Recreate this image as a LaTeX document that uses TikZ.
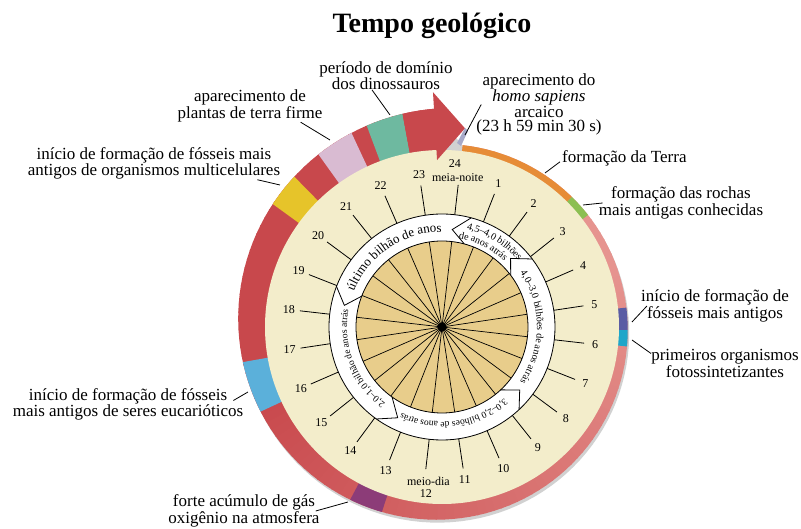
\documentclass[tikz,border=0pt]{standalone}
\usepackage{fontspec}
\setmainfont{Liberation Serif}
\usetikzlibrary{decorations.text}
\definecolor{creme}{HTML}{F3EDCB}
\definecolor{dourado}{HTML}{E8CD8B}
\definecolor{rosa}{HTML}{E6948F}
\definecolor{vermelho}{HTML}{C8484C}
\definecolor{laranja}{HTML}{E68C37}
\definecolor{verde}{HTML}{8CBF52}
\definecolor{anil}{HTML}{5A5CA4}
\definecolor{ciano}{HTML}{1EA6C9}
\definecolor{roxo}{HTML}{8C3C78}
\definecolor{celeste}{HTML}{5BB0DA}
\definecolor{amarelo}{HTML}{E6C42A}
\definecolor{lilas}{HTML}{D9BBD2}
\definecolor{verdeagua}{HTML}{6EB9A0}
\definecolor{acinzentado}{HTML}{A7A9C9}
\tikzset{rotulo/.style={font=\fontsize{17}{14}\selectfont,align=center,inner sep=0pt},
  hora/.style={font=\fontsize{12}{12}\selectfont,inner sep=0pt},
  guia/.style={line width=0.8pt}}
\newcommand{\faixa}[3]{\fill[#3] (#1:176) arc[start angle=#1,end angle=#2,radius=176]
  -- plot[domain=#2:#1,samples=12] (\x:{rext(\x)}) -- cycle}
\newcommand{\fita}[4]{\path[decorate,decoration={text along path,text align=center,
  text={|\fontsize{#3}{#3}\selectfont|#4}}] ({#1+70}:#2) arc[start angle=#1+70,end angle=#1-70,radius=#2]}

\begin{document}
\begin{tikzpicture}[x=1pt,y=1pt,
  declare function={rext(\a)=183+4*((83.5-\a)/360)+33*((83.5-\a)/360)^2;}]
  \useasboundingbox (-442,-202) rectangle (359,327);

  \fill[black!18,shift={(1.5,-3)}] plot[domain=-268:83.5,samples=120] (\x:{rext(\x)}) -- cycle;
  \foreach \a in {83.5,81,...,-266.5}{
    \pgfmathsetmacro\mistura{min(100,max(0,(20-\a)/1.8))}
    \faixa{\a}{\a-2.9}{vermelho!\mistura!rosa};
  }
  \faixa{83.5}{45}{laranja};
  \faixa{45}{37.5}{verde};
  \faixa{6}{-1}{anil};
  \faixa{-1}{-6}{ciano};
  \faixa{-108}{-118}{roxo};
  \faixa{-155}{-170}{celeste};
  \faixa{-216}{-225.5}{amarelo};
  \faixa{-234.4}{-245}{lilas};
  \faixa{-249.5}{-259.5}{verdeagua};
  \faixa{-259.5}{-268.3}{vermelho};

  \fill[creme] (0,0) circle[radius=177];
  \fill[vermelho] (92.2:235) -- (83.4:200) -- (91.7:167) -- cycle;
  \fill[acinzentado] (15,184) -- (23,199) -- (26,196) -- (19,181) -- cycle;

  \filldraw[fill=white,line width=0.8pt] (0,0) circle[radius=113];
  \filldraw[fill=dourado,line width=0.8pt] (0,0) circle[radius=86];
  \foreach \h in {1,...,24}{
    \draw[line width=0.7pt] (0,0) -- ({83.5-15*\h}:86);
    \draw[line width=0.8pt] ({83.5-15*\h}:113) -- ({83.5-15*\h}:143);
  }
  \fill (0,0) circle[radius=4.5];

  \foreach \ang/\bico/\raio in {37/45/97,-47/-39/100,-125.5/-116/101,159/167.5/100,75/84/98}
    \draw[line width=0.8pt] (\ang:113) -- (\bico:\raio) -- (\ang:86);

  \fita{124}{95}{13}{último bilhão de anos};
  \fita{58.5}{101}{10}{4,5–4,0 bilhões};
  \fita{63}{90.5}{10}{de anos atrás};
  \fita{0}{95}{10}{4,0–3,0 bilhões de anos atrás};
  \fita{-82}{95}{9.5}{3,0–2,0 bilhões de anos atrás};
  \fita{-158.5}{95}{9.5}{2,0–1,0 bilhão de anos atrás};

  \foreach \h in {1,...,11,13,14,...,23}
    \node[hora] (h\h) at ({83.5-15*\h}:154) {\h};
  \node[hora] (meianoite) at (84:150) {meia-noite};
  \node[hora] (h24) at (85.5:164) {24};
  \node[hora] (meiodia) at (-95:155) {meio-dia};
  \node[hora] (h12) at (-95.5:167) {12};

  \node[rotulo] (tDino) at (-56,251.5) {período de domínio\\dos dinossauros};
  \node[rotulo] (tHomo) at (97,222.5) {aparecimento do\\\textit{homo sapiens}\\arcaico\\(23 h 59 min 30 s)};
  \node[rotulo] (tPlanta) at (-192,221) {aparecimento de\\plantas de terra firme};
  \node[rotulo] (tMulti) at (-288,163.5) {início de formação de fósseis mais\\antigos de organismos multicelulares};
  \node[rotulo,anchor=base west] (tTerra) at (120,164) {formação da Terra};
  \node[rotulo] (tRocha) at (239,124) {formação das rochas\\mais antigas conhecidas};
  \node[rotulo] (tFossil) at (273,21) {início de formação de\\fósseis mais antigos};
  \node[rotulo] (tFoto) at (283,-36.5) {primeiros organismos\\fotossintetizantes};
  \node[rotulo] (tEuca) at (-314,-77.5) {início de formação de fósseis\\mais antigos de seres eucarióticos};
  \node[rotulo] (tOxi) at (-198,-184) {forte acúmulo de gás\\oxigênio na atmosfera};

  \coordinate (pDino) at (-52,212);
  \coordinate (pHomo) at (23,192);
  \coordinate (pPlanta) at (-112,187);
  \coordinate (pMulti) at (-162,142);
  \coordinate (pTerra) at (103,154);
  \coordinate (pRocha) at (141,122);
  \coordinate (pFossil) at (190,5);
  \coordinate (pFoto) at (190,-13);
  \coordinate (pEuca) at (-194,-65);
  \coordinate (pOxi) at (-94,-175);

  \draw[guia] ([xshift=-14pt]tDino.south) -- (pDino);
  \draw[guia] ([xshift=5pt]tHomo.west) -- (pHomo);
  \draw[guia] ([xshift=-22pt]tPlanta.south east) -- (pPlanta);
  \draw[guia] ([xshift=-23pt]tMulti.south east) -- (pMulti);
  \draw[guia] ([xshift=-2pt,yshift=-3pt]tTerra.west) -- (pTerra);
  \draw[guia] ([xshift=4pt]tRocha.west) -- (pRocha);
  \draw[guia] ([xshift=6pt]tFossil.west) -- (pFossil);
  \draw[guia] ([yshift=10pt]tFoto.west) -- (pFoto);
  \draw[guia] ([xshift=-10pt,yshift=4pt]tEuca.east) -- (pEuca);
  \draw[guia] ([xshift=-4pt]tOxi.east) -- (pOxi);

  \node[font=\bfseries\fontsize{28}{28}\selectfont,anchor=base] (titulo) at (-10,294) {Tempo geológico};
\end{tikzpicture}
\end{document}
